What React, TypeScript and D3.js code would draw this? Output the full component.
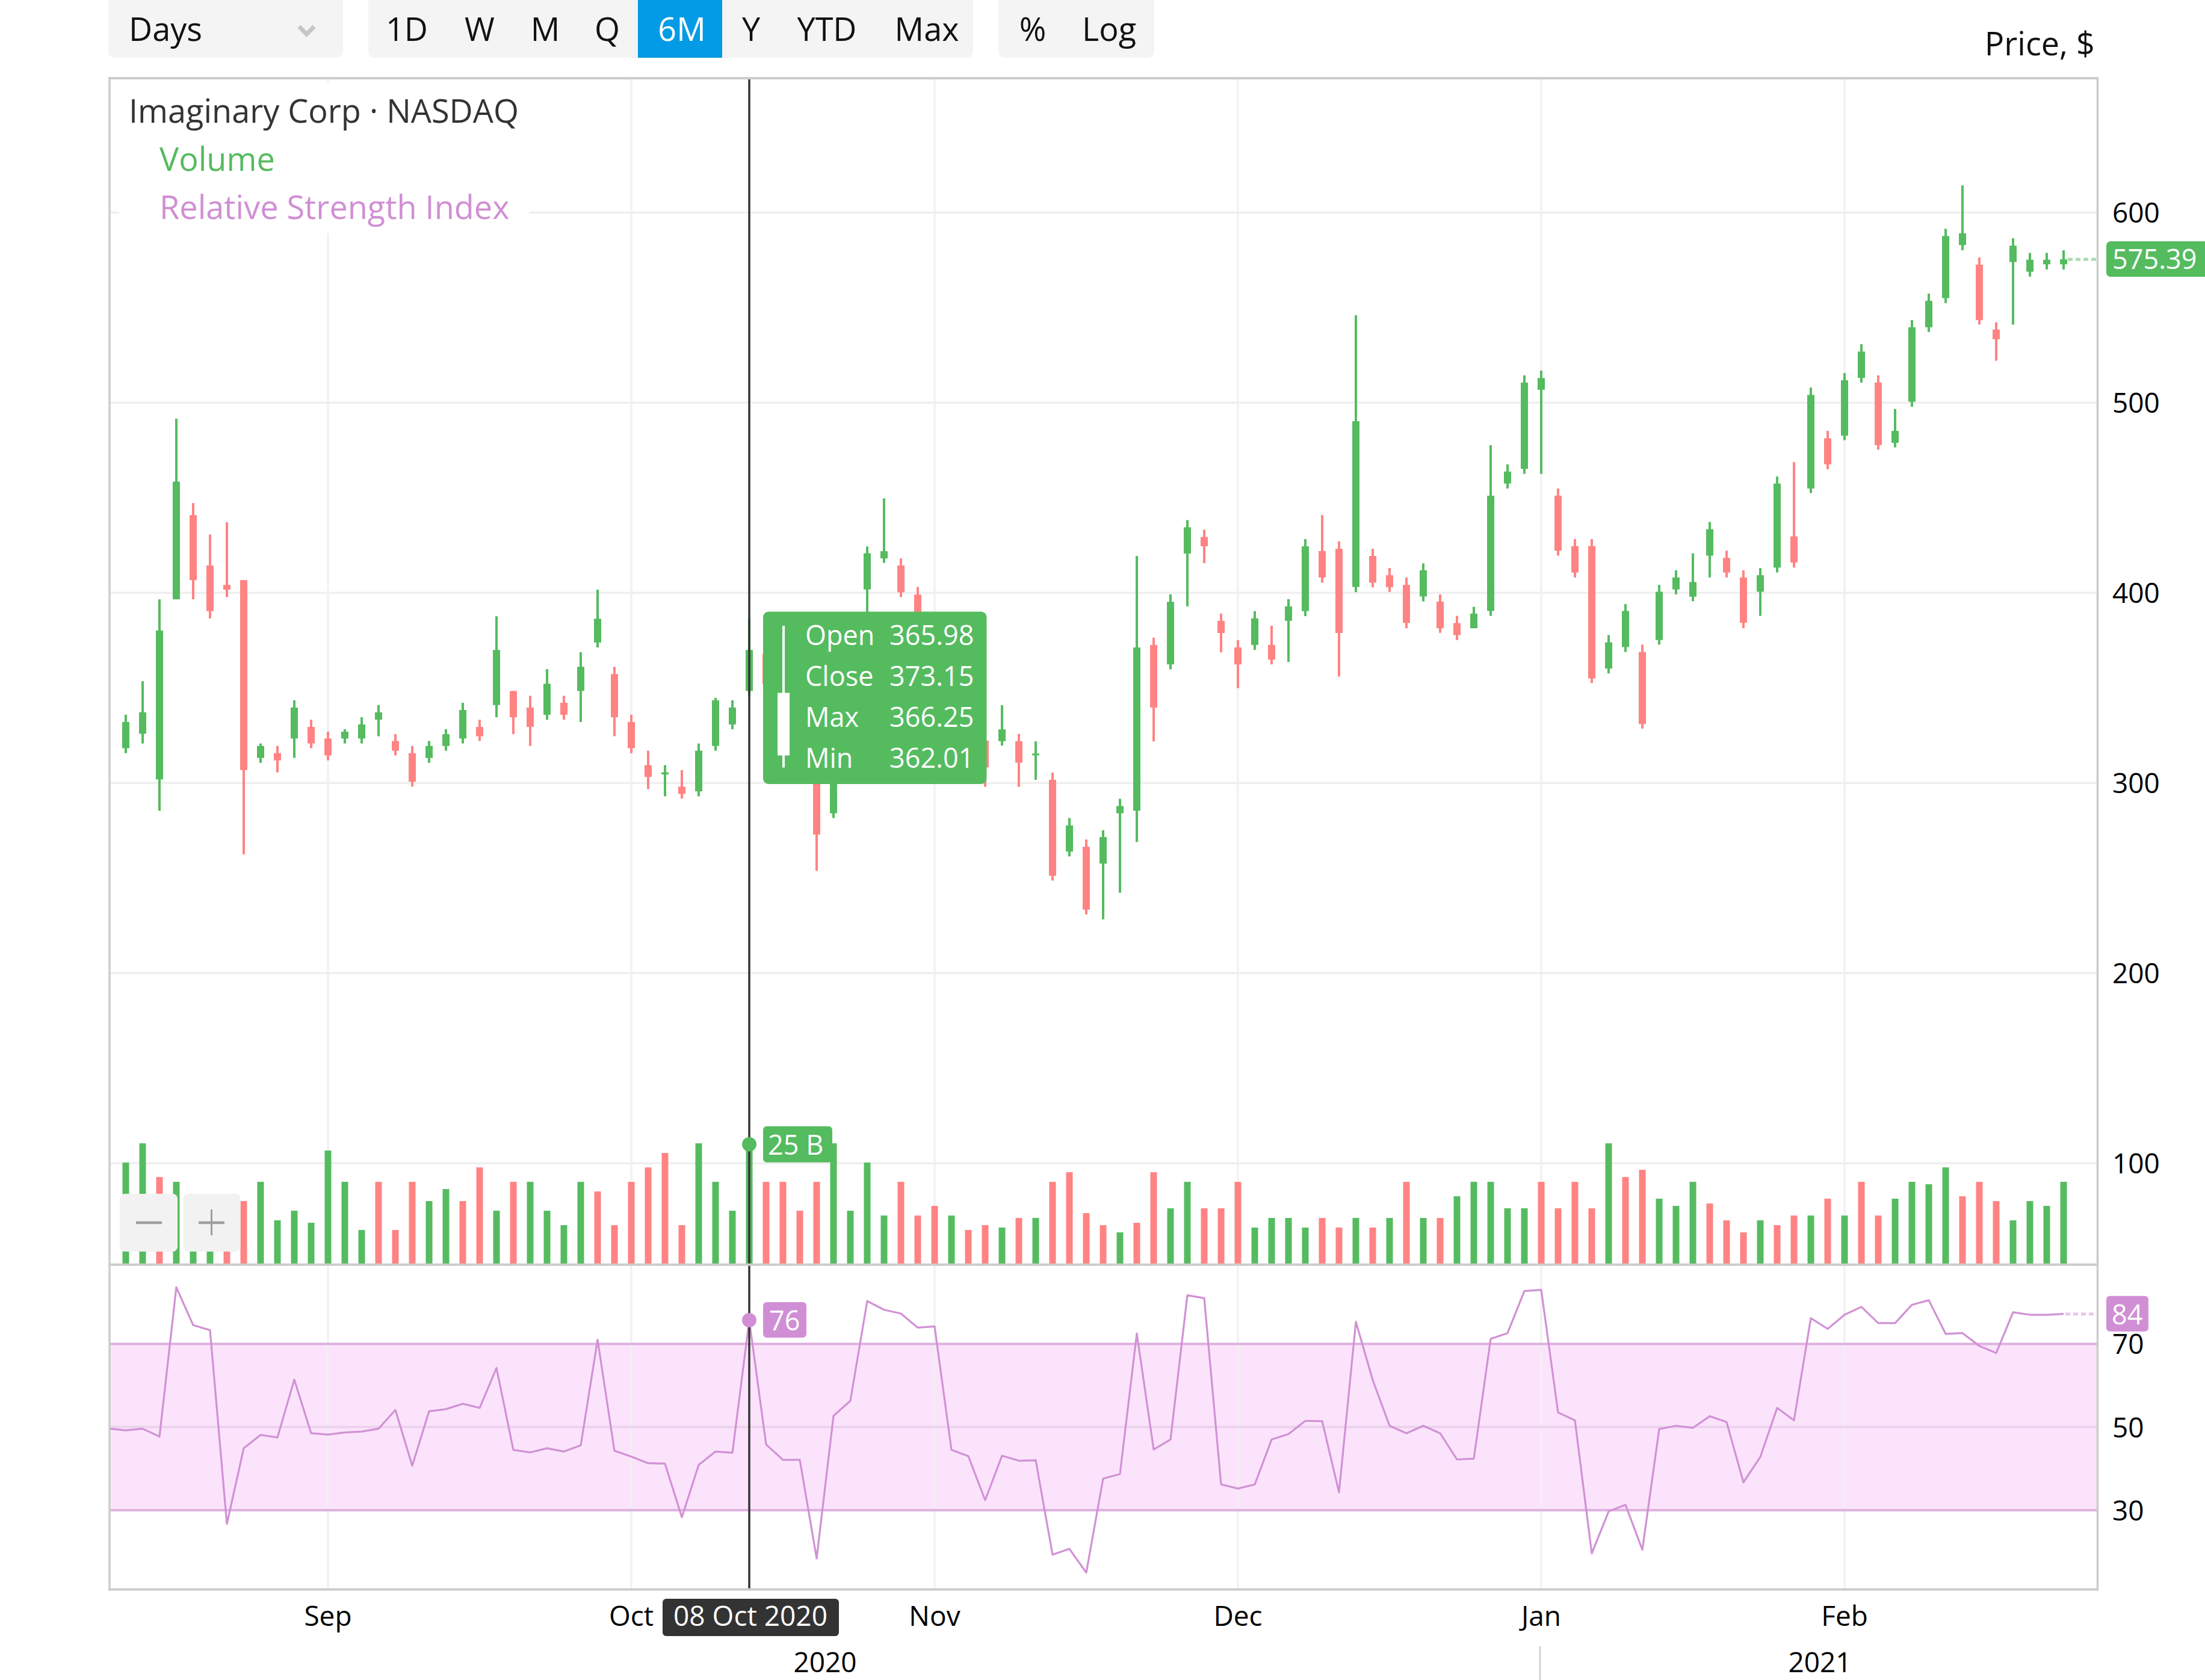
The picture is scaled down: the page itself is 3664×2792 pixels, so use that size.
import React, { useEffect } from "react";
import * as d3 from "d3";

// ---------- DATA ----------
const opens = [318.3, 325.9, 301.9, 396.6, 440.9, 414.4, 404.2, 406.7, 313.2, 315.7, 323.4, 329.5, 323.4, 323.4, 323.4, 333.3, 322.1, 315.7, 313.2, 319.5, 323.4, 329.5, 341.0, 348.4, 339.7, 335.9, 342.2, 348.4, 373.9, 357.3, 332.1, 309.4, 304.5, 298.1, 295.6, 319.5, 330.8, 348.4, 368, 352, 340, 322, 284.1, 318, 401.8, 418.1, 414.4, 399.1, 372, 345, 356, 322.3, 322.0, 322.0, 314.6, 301.7, 263.9, 266.5, 257.6, 284.1, 285.4, 372.6, 362.4, 420.7, 429.4, 385.3, 371.3, 372.6, 372.6, 385.3, 390.4, 422.0, 423.2, 403.1, 419.4, 409.3, 404.2, 398.1, 395.4, 384.1, 381.4, 390.5, 457.5, 465.2, 506.8, 451.1, 424.6, 424.6, 360.2, 371.5, 368.9, 375.2, 401.8, 398.0, 419.6, 418.4, 408.1, 400.6, 413.3, 429.7, 454.9, 481.3, 482.7, 513.0, 510.6, 478.9, 500.5, 539.7, 555.0, 582.9, 572.6, 538.5, 574.0, 568.9, 572.8, 572.8];
const highs = [335.9, 353.5, 396.6, 491.6, 447.2, 430.7, 437.1, 406.7, 320.8, 319.5, 343.5, 333.3, 327.0, 328.3, 334.6, 341.0, 325.7, 319.5, 322.1, 328.3, 342.2, 333.3, 387.7, 348.4, 345.9, 359.9, 345.9, 368.8, 401.7, 361.1, 335.9, 317.0, 309.4, 306.8, 320.8, 344.8, 343.5, 386.4, 372, 358, 345, 328, 322, 370, 424.4, 449.7, 418.1, 403.1, 378, 366, 362, 328, 340.9, 325.8, 321.9, 305.5, 281.6, 270.3, 275.2, 291.7, 419.4, 376.4, 399.2, 438.3, 433.2, 389.1, 375.1, 390.4, 382.7, 396.7, 428.3, 440.9, 427.1, 546.0, 423.2, 413.1, 408.1, 415.5, 399.2, 387.9, 392.7, 477.7, 467.6, 514.4, 516.9, 454.9, 428.3, 428.3, 377.8, 394.1, 372.8, 404.2, 411.9, 420.8, 437.3, 422.2, 411.9, 413.1, 461.2, 468.8, 508.0, 485.2, 515.6, 530.8, 514.4, 496.7, 543.5, 557.4, 591.5, 614.3, 576.4, 542.3, 586.5, 578.8, 578.8, 580.2];
const lows = [315.7, 320.8, 285.4, 396.6, 396.6, 386.6, 397.8, 262.5, 310.6, 305.6, 313.2, 318.3, 311.9, 320.8, 320.8, 324.6, 314.5, 298.1, 310.6, 317.0, 320.8, 322.1, 334.6, 325.7, 319.5, 333.3, 333.3, 332.1, 371.3, 324.6, 315.7, 296.8, 293.0, 291.8, 293.0, 317.0, 328.3, 345.9, 348, 335, 322, 253.8, 281.6, 312, 380, 415.8, 397.8, 368, 340, 338, 318, 298.0, 319.7, 298.0, 301.7, 248.7, 261.4, 230.9, 228.3, 242.3, 269.0, 321.9, 359.8, 392.9, 415.6, 368.7, 349.9, 370.0, 362.4, 363.7, 387.8, 405.4, 356.0, 400.4, 402.9, 400.5, 381.4, 395.5, 379.0, 375.2, 381.4, 387.9, 454.9, 462.6, 462.6, 419.6, 408.1, 352.6, 357.6, 368.9, 328.6, 372.8, 399.2, 395.6, 408.1, 408.1, 381.4, 387.9, 410.7, 413.3, 452.5, 465.0, 480.3, 510.6, 475.3, 476.5, 497.9, 537.2, 552.4, 580.2, 541.1, 522.1, 541.1, 566.3, 570.1, 570.1];
const closes = [332.1, 337.2, 380.2, 458.5, 406.7, 390.4, 401.7, 306.8, 319.5, 311.9, 339.7, 320.8, 314.5, 327.0, 330.8, 337.2, 317.0, 300.7, 319.5, 325.7, 338.4, 324.6, 370.0, 334.6, 329.5, 352.2, 335.9, 361.1, 386.4, 334.6, 318.3, 303.2, 305.6, 294.3, 317.0, 343.5, 339.7, 370.0, 352, 340, 326, 272.9, 318, 365, 420.8, 421.9, 400.3, 375, 345, 360, 322, 308.2, 328.2, 310.7, 315.5, 251.2, 277.7, 233.4, 271.6, 287.9, 371.3, 339.7, 395.3, 434.5, 424.5, 378.9, 362.4, 386.6, 364.9, 392.9, 424.5, 408.1, 378.9, 490.3, 405.4, 403.0, 384.2, 411.9, 381.4, 377.8, 389.1, 451.1, 463.8, 510.6, 513.0, 422.2, 410.7, 355.0, 374.0, 390.5, 331.0, 400.6, 408.1, 405.7, 433.5, 410.7, 384.3, 409.3, 457.5, 416.0, 504.1, 467.6, 511.8, 526.9, 477.7, 485.2, 539.7, 553.6, 587.7, 589.1, 543.5, 533.4, 582.6, 575.2, 575.2, 575.39];
const volumes = [21.2, 25.2, 18.2, 17.2, 11, 9, 12, 13.2, 17.2, 9.2, 11.2, 8.7, 23.7, 17.2, 7.2, 17.2, 7.2, 17.2, 13.2, 15.7, 13.2, 20.2, 11.2, 17.2, 17.2, 11.2, 8.2, 17.2, 15.2, 8.2, 17.2, 20.2, 23.2, 8.2, 25.2, 17.2, 11.2, 25.0, 17.2, 17.2, 11.2, 17.2, 25.2, 11.2, 21.2, 10.2, 17.2, 10.2, 12.2, 10.2, 7.2, 8.2, 7.7, 9.7, 9.7, 17.2, 19.2, 10.7, 8.2, 6.7, 8.7, 19.2, 11.7, 17.2, 11.7, 11.7, 17.2, 7.7, 9.7, 9.7, 7.7, 9.7, 7.7, 9.7, 7.7, 9.7, 17.2, 9.7, 9.7, 14.2, 17.2, 17.2, 11.7, 11.7, 17.2, 11.7, 17.2, 11.7, 25.2, 18.2, 19.7, 13.7, 12.2, 17.2, 12.7, 9.2, 6.7, 9.2, 8.2, 10.2, 10.2, 13.7, 10.2, 17.2, 10.2, 13.7, 17.2, 16.7, 20.2, 14.2, 17.2, 13.2, 9.2, 13.2, 12.2, 17.2];
const volumeUp = [1, 1, 0, 1, 1, 1, 0, 0, 1, 1, 1, 1, 1, 1, 1, 0, 0, 0, 1, 1, 0, 0, 1, 0, 1, 1, 1, 1, 0, 0, 0, 0, 0, 0, 1, 1, 1, 1, 0, 0, 0, 0, 1, 1, 1, 1, 0, 0, 0, 1, 0, 0, 1, 0, 1, 0, 0, 0, 0, 1, 0, 0, 1, 1, 0, 0, 0, 1, 1, 1, 1, 0, 0, 1, 0, 1, 0, 1, 0, 1, 1, 1, 1, 1, 0, 0, 0, 0, 1, 0, 0, 1, 1, 1, 0, 0, 0, 1, 0, 0, 1, 0, 1, 0, 0, 1, 1, 1, 1, 0, 0, 0, 1, 1, 1, 1];
// RSI starts one bar before the first visible candle
const RSI_START = -1;
const rsiValues = [49.6, 49.2, 49.6, 47.7, 83.6, 74.5, 73.3, 26.7, 44.9, 48.1, 47.5, 61.4, 48.5, 48.2, 48.7, 48.9, 49.6, 54.1, 40.7, 53.8, 54.3, 55.6, 54.6, 64.2, 44.5, 43.9, 44.9, 44.1, 45.6, 71.0, 44.3, 42.9, 41.3, 41.2, 28.3, 40.9, 44.1, 43.8, 75.7, 45.8, 42.1, 42.1, 18.4, 52.7, 56.3, 80.3, 78.2, 77.3, 73.9, 74.2, 44.5, 43.0, 32.4, 43.1, 41.9, 42.0, 19.3, 20.7, 15.0, 37.6, 38.7, 72.5, 44.6, 47.0, 81.7, 81.0, 36.2, 35.2, 36.2, 47.0, 48.3, 51.5, 51.4, 34.3, 75.3, 61.3, 50.3, 48.5, 50.3, 48.5, 42.2, 42.4, 71.2, 72.6, 82.7, 83.0, 53.5, 51.6, 19.6, 29.7, 31.3, 20.5, 49.5, 50.3, 49.8, 52.6, 51.2, 36.7, 42.8, 54.6, 51.6, 76.2, 73.6, 77.0, 78.9, 75.0, 75.0, 79.4, 80.5, 72.4, 72.6, 69.5, 67.8, 77.6, 77.0, 77.0, 77.2];

const monthLabels = ["Sep", "Oct", "Nov", "Dec", "Jan", "Feb"];
const monthIndex = [12, 30, 48, 66, 84, 102];
const yearLabels = ["2020", "2021"];
const priceTicks = [100, 200, 300, 400, 500, 600];
const rsiTicks = [30, 50, 70];
const rangeButtons = ["1D", "W", "M", "Q", "6M", "Y", "YTD", "Max"];
const activeRange = "6M";
const scaleButtons = ["%", "Log"];
const tooltipLabels = ["Open", "Close", "Max", "Min"];
const tooltipValues = ["365.98", "373.15", "366.25", "362.01"];
const hoverIndex = 37;
const hoverDate = "08 Oct 2020";
const hoverVolumeLabel = "25 B";
const hoverRsiLabel = "76";
const lastRsiLabel = "84";
const lastPriceLabel = "575.39";

// ---------- STYLE ----------
const GREEN = "#55bb5f";
const RED = "#ff8383";
const GRID = "#efefef";
const FRAME = "#cccccc";
const RSI_LINE = "#d191d5";
const RSI_BAND = "#fbe4fb";
const RSI_EDGE = "#ddb0df";
const RSI_MID = "#ecd2ec";
const PURPLE_LABEL = "#d08fd4";
const FONT = "'Open Sans', 'Noto Sans', sans-serif";

const W = 3664;
const H = 2792;
const L = 182;
const R = 3485.5;
const TOP = 130;
const SEP = 2101.7;
const BOTTOM = 2641.5;

export default function App() {
  useEffect(() => {
    document.body.style.margin = "0";
    document.body.style.overflow = "hidden";
  }, []);

  const x = d3.scaleLinear().domain([-1, 117.07]).range([181, 3487]);
  const y = d3.scaleLinear().domain([100, 600]).range([1933.3, 353.3]);
  const vy = d3.scaleLinear().domain([0, 25]).range([SEP, 1901.7]);
  const ry = d3.scaleLinear().domain([30, 70]).range([2509.8, 2233.4]);

  const rsiLine = d3
    .line<number>()
    .x((_, i) => x(i + RSI_START))
    .y((d) => ry(d));

  const n = closes.length;
  const last = n - 1;
  const hx = x(hoverIndex);
  const hoverRsi = rsiValues[hoverIndex - RSI_START];
  const lastRsi = rsiValues[rsiValues.length - 1];

  const toolbarX: Record<string, number> = { "1D": 676, W: 797, M: 906, Q: 1009, "6M": 1133, Y: 1248, YTD: 1374, Max: 1540 };
  const scaleX: Record<string, number> = { "%": 1716, Log: 1843 };

  return (
    <svg width={W} height={H} style={{ position: "absolute", left: 0, top: 0, display: "block", background: "#fff" }} fontFamily={FONT}>
      <defs>
        <clipPath id="mainClip">
          <rect x={L} y={TOP} width={R - L} height={SEP - TOP} />
        </clipPath>
        <clipPath id="rsiClip">
          <rect x={L} y={SEP} width={R - L} height={BOTTOM - SEP} />
        </clipPath>
      </defs>

      {/* toolbar */}
      <rect x={180} y={-14} width={390} height={110} rx={10} fill="#f4f4f4" />
      <text x={214} y={68} fontSize={54} fill="#111">Days</text>
      <polyline points="497,44 509.5,57 522,44" fill="none" stroke="#c6c6c6" strokeWidth={7} />
      <rect x={612} y={-14} width={1005} height={110} rx={10} fill="#f4f4f4" />
      <rect x={1060} y={-14} width={140} height={110} fill="#039be5" />
      {rangeButtons.map((b) => (
        <text key={b} x={toolbarX[b]} y={68} fontSize={54} textAnchor="middle" fill={b === activeRange ? "#fff" : "#111"}>{b}</text>
      ))}
      <rect x={1659} y={-14} width={259} height={110} rx={10} fill="#f4f4f4" />
      {scaleButtons.map((b) => (
        <text key={b} x={scaleX[b]} y={68} fontSize={54} textAnchor="middle" fill="#111">{b}</text>
      ))}
      <text x={3481} y={92} fontSize={54} textAnchor="end" fill="#111">Price, $</text>

      {/* RSI band */}
      <rect x={L} y={ry(70)} width={R - L} height={ry(30) - ry(70)} fill={RSI_BAND} />

      {/* grid */}
      {priceTicks.map((t) => (
        <line key={"pg" + t} x1={L} x2={R} y1={y(t)} y2={y(t)} stroke={GRID} strokeWidth={3.5} />
      ))}
      {monthIndex.map((m) => (
        <line key={"vg" + m} x1={x(m)} x2={x(m)} y1={TOP} y2={BOTTOM} stroke={GRID} strokeOpacity={0.9} strokeWidth={3.5} />
      ))}
      <line x1={L} x2={R} y1={ry(70)} y2={ry(70)} stroke={RSI_EDGE} strokeWidth={4} />
      <line x1={L} x2={R} y1={ry(30)} y2={ry(30)} stroke={RSI_EDGE} strokeWidth={4} />
      <line x1={L} x2={R} y1={ry(50)} y2={ry(50)} stroke={RSI_MID} strokeWidth={4} />

      {/* volume */}
      <g clipPath="url(#mainClip)">
        {volumes.map((v, i) => (
          <rect key={"v" + i} x={x(i) - 5.5} y={vy(v)} width={11} height={SEP - vy(v)} fill={volumeUp[i] ? GREEN : RED} />
        ))}
      </g>

      {/* candles */}
      <g clipPath="url(#mainClip)">
        {closes.map((c, i) => {
          const o = opens[i];
          const up = c >= o;
          const col = up ? GREEN : RED;
          const top = y(Math.max(o, c));
          const bot = y(Math.min(o, c));
          return (
            <g key={"c" + i}>
              <rect x={x(i) - 2} y={y(highs[i])} width={4} height={y(lows[i]) - y(highs[i])} fill={col} />
              <rect x={x(i) - 6} y={top} width={12} height={Math.max(3, bot - top)} fill={col} />
            </g>
          );
        })}
      </g>

      {/* RSI line */}
      <g clipPath="url(#rsiClip)">
        <path d={rsiLine(rsiValues) || ""} fill="none" stroke={RSI_LINE} strokeWidth={3.2} strokeLinejoin="round" />
      </g>

      {/* last value dotted lines */}
      <line x1={x(last) + 7} x2={R - 2} y1={y(closes[last])} y2={y(closes[last])} stroke="#aadbb0" strokeWidth={5} strokeDasharray="8 5" />
      <line x1={x(last) + 3} x2={R - 2} y1={ry(lastRsi)} y2={ry(lastRsi)} stroke="#ebc6ec" strokeWidth={5} strokeDasharray="8 5" />

      {/* legend */}
      <rect x={198} y={136} width={681} height={252} fill="#fff" />
      <text x={214} y={204} fontSize={54} fill="#333">Imaginary Corp · NASDAQ</text>
      <text x={265} y={284} fontSize={54} fill={GREEN}>Volume</text>
      <text x={265} y={364} fontSize={54} fill={PURPLE_LABEL}>Relative Strength Index</text>

      {/* zoom buttons */}
      <rect x={199} y={1984} width={96} height={96} rx={8} fill="#f2f2f2" />
      <line x1={226} x2={269} y1={2032} y2={2032} stroke="#9e9e9e" strokeWidth={4.5} />
      <rect x={304.5} y={1984} width={95} height={96} rx={8} fill="#f2f2f2" />
      <line x1={330} x2={373} y1={2032} y2={2032} stroke="#9e9e9e" strokeWidth={4.5} />
      <line x1={351.5} x2={351.5} y1={2010} y2={2053} stroke="#9e9e9e" strokeWidth={3} />

      {/* crosshair */}
      <line x1={hx} x2={hx} y1={TOP} y2={BOTTOM} stroke="#333" strokeWidth={3.5} />
      <circle cx={hx} cy={vy(volumes[hoverIndex])} r={12} fill={GREEN} />
      <rect x={hx + 23} y={vy(volumes[hoverIndex]) - 30} width={115} height={60} rx={6} fill={GREEN} />
      <text x={hx + 31} y={vy(volumes[hoverIndex]) + 17} fontSize={45} fill="#fff">{hoverVolumeLabel}</text>
      <circle cx={hx} cy={ry(hoverRsi)} r={12} fill={PURPLE_LABEL} />
      <rect x={hx + 23} y={ry(hoverRsi) - 30} width={72} height={59} rx={6} fill={PURPLE_LABEL} />
      <text x={hx + 33} y={ry(hoverRsi) + 17} fontSize={45} fill="#fff">{hoverRsiLabel}</text>

      {/* tooltip */}
      <rect x={1268} y={1016.5} width={371.5} height={286.5} rx={9} fill={GREEN} />
      <rect x={1300} y={1040} width={4} height={235.5} fill="#fff" />
      <rect x={1292} y={1151.5} width={20} height={104} fill="#fff" />
      {tooltipLabels.map((lab, i) => (
        <g key={lab}>
          <text x={1338} y={1072.4 + i * 67.7} fontSize={45} fill="#fff">{lab}</text>
          <text x={1478} y={1072.4 + i * 67.7} fontSize={45} fill="#fff">{tooltipValues[i]}</text>
        </g>
      ))}

      {/* frame */}
      <line x1={180} x2={3487} y1={TOP} y2={TOP} stroke={FRAME} strokeWidth={4} />
      <line x1={L} x2={L} y1={TOP} y2={BOTTOM + 2} stroke={FRAME} strokeWidth={3.5} />
      <line x1={R} x2={R} y1={TOP} y2={BOTTOM + 2} stroke={FRAME} strokeWidth={3.5} />
      <line x1={180} x2={3487} y1={SEP} y2={SEP} stroke={FRAME} strokeWidth={4} />
      <line x1={180} x2={3487} y1={BOTTOM} y2={BOTTOM} stroke={FRAME} strokeWidth={4} />

      {/* price axis */}
      {priceTicks.map((t) => (
        <text key={"pt" + t} x={3510} y={y(t) + 17} fontSize={46} fill="#000">{t}</text>
      ))}
      <rect x={3500} y={y(closes[last]) - 30} width={170} height={59} rx={7} fill={GREEN} />
      <text x={3510} y={y(closes[last]) + 16} fontSize={45} fill="#fff">{lastPriceLabel}</text>

      {/* rsi axis */}
      {rsiTicks.map((t) => (
        <text key={"rt" + t} x={3510} y={ry(t) + 17} fontSize={46} fill="#000">{t}</text>
      ))}
      <rect x={3500} y={ry(lastRsi) - 30} width={70} height={59} rx={6} fill={PURPLE_LABEL} />
      <text x={3509} y={ry(lastRsi) + 17} fontSize={45} fill="#fff">{lastRsiLabel}</text>

      {/* time axis */}
      {monthLabels.map((m, i) => (
        <text key={m} x={x(monthIndex[i])} y={2702} fontSize={46} textAnchor="middle" fill="#000">{m}</text>
      ))}
      <rect x={hx - 144} y={2657} width={293} height={62} rx={6} fill="#333" />
      <text x={hx + 2} y={2702} fontSize={46} textAnchor="middle" fill="#fff">{hoverDate}</text>
      <line x1={x(monthIndex[4]) - 2} x2={x(monthIndex[4]) - 2} y1={2736} y2={H} stroke={FRAME} strokeWidth={2.5} />
      <text x={(181 + x(monthIndex[4])) / 2} y={2779} fontSize={46} textAnchor="middle" fill="#000">{yearLabels[0]}</text>
      <text x={(x(monthIndex[4]) + 3487) / 2} y={2779} fontSize={46} textAnchor="middle" fill="#000">{yearLabels[1]}</text>
    </svg>
  );
}
